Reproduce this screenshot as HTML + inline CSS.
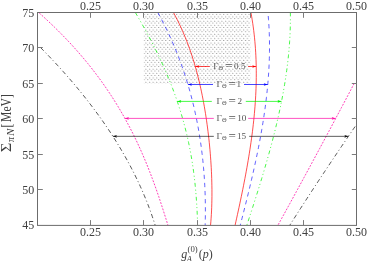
<!DOCTYPE html>
<html><head><meta charset="utf-8"><title>plot</title>
<style>
html,body{margin:0;padding:0;background:#fff;}
body{width:368px;height:261px;overflow:hidden;}
svg{display:block;will-change:transform;}
text{font-family:"Liberation Serif",serif;}
</style></head><body>
<svg width="368" height="261" viewBox="0 0 368 261">
<defs>
<pattern id="dots" x="143.5" y="13.9" width="3.62" height="4.36" patternUnits="userSpaceOnUse">
<ellipse cx="0.7" cy="0.6" rx="0.57" ry="0.37" fill="#222"/>
<ellipse cx="2.51" cy="2.78" rx="0.57" ry="0.37" fill="#222"/>
</pattern>
</defs>
<rect x="0" y="0" width="368" height="261" fill="#fff"/>
<rect x="143.8" y="12.3" width="106.5" height="71.2" fill="url(#dots)"/>
<path d="M173.47,12.50 L175.40,16.11 L177.25,19.72 L179.02,23.33 L180.72,26.93 L182.35,30.54 L183.91,34.15 L185.41,37.76 L186.84,41.37 L188.21,44.98 L189.52,48.58 L190.78,52.19 L191.98,55.80 L193.13,59.41 L194.24,63.02 L195.29,66.63 L196.30,70.24 L197.27,73.84 L198.19,77.45 L199.08,81.06 L199.93,84.67 L200.74,88.28 L201.51,91.89 L202.25,95.49 L202.96,99.10 L203.64,102.71 L204.29,106.32 L204.90,109.93 L205.49,113.54 L206.05,117.15 L206.58,120.75 L207.09,124.36 L207.57,127.97 L208.03,131.58 L208.46,135.19 L208.86,138.80 L209.25,142.41 L209.60,146.01 L209.94,149.62 L210.25,153.23 L210.53,156.84 L210.79,160.45 L211.03,164.06 L211.24,167.66 L211.42,171.27 L211.58,174.88 L211.71,178.49 L211.81,182.10 L211.89,185.71 L211.94,189.32 L211.95,192.92 L211.94,196.53 L211.89,200.14 L211.81,203.75 L211.69,207.36 L211.54,210.97 L211.35,214.57 L211.12,218.18 L210.85,221.79 L210.53,225.40" fill="none" stroke="#ff0000" stroke-width="0.7"/>
<path d="M250.93,12.50 L251.57,16.11 L252.17,19.72 L252.73,23.33 L253.24,26.93 L253.71,30.54 L254.14,34.15 L254.52,37.76 L254.87,41.37 L255.18,44.98 L255.45,48.58 L255.68,52.19 L255.87,55.80 L256.02,59.41 L256.14,63.02 L256.23,66.63 L256.28,70.24 L256.29,73.84 L256.27,77.45 L256.22,81.06 L256.14,84.67 L256.02,88.28 L255.88,91.89 L255.70,95.49 L255.50,99.10 L255.26,102.71 L255.00,106.32 L254.71,109.93 L254.39,113.54 L254.05,117.15 L253.68,120.75 L253.29,124.36 L252.88,127.97 L252.44,131.58 L251.97,135.19 L251.49,138.80 L250.98,142.41 L250.46,146.01 L249.91,149.62 L249.35,153.23 L248.76,156.84 L248.16,160.45 L247.54,164.06 L246.91,167.66 L246.26,171.27 L245.59,174.88 L244.91,178.49 L244.21,182.10 L243.51,185.71 L242.79,189.32 L242.05,192.92 L241.31,196.53 L240.56,200.14 L239.79,203.75 L239.02,207.36 L238.24,210.97 L237.45,214.57 L236.66,218.18 L235.85,221.79 L235.05,225.40" fill="none" stroke="#ff0000" stroke-width="0.7"/>
<path d="M157.80,12.50 L159.77,16.11 L161.68,19.72 L163.55,23.33 L165.36,26.93 L167.12,30.54 L168.83,34.15 L170.49,37.76 L172.10,41.37 L173.67,44.98 L175.18,48.58 L176.66,52.19 L178.08,55.80 L179.47,59.41 L180.81,63.02 L182.10,66.63 L183.36,70.24 L184.57,73.84 L185.74,77.45 L186.88,81.06 L187.97,84.67 L189.02,88.28 L190.04,91.89 L191.02,95.49 L191.96,99.10 L192.87,102.71 L193.74,106.32 L194.57,109.93 L195.37,113.54 L196.14,117.15 L196.87,120.75 L197.57,124.36 L198.24,127.97 L198.87,131.58 L199.47,135.19 L200.05,138.80 L200.59,142.41 L201.10,146.01 L201.58,149.62 L202.03,153.23 L202.45,156.84 L202.84,160.45 L203.20,164.06 L203.53,167.66 L203.84,171.27 L204.12,174.88 L204.37,178.49 L204.59,182.10 L204.78,185.71 L204.95,189.32 L205.09,192.92 L205.20,196.53 L205.29,200.14 L205.35,203.75 L205.38,207.36 L205.39,210.97 L205.37,214.57 L205.32,218.18 L205.25,221.79 L205.15,225.40" fill="none" stroke="#0000ff" stroke-width="0.62" stroke-dasharray="4.3 3.8"/>
<path d="M268.22,16.00 L268.51,19.55 L268.76,23.10 L268.97,26.65 L269.15,30.20 L269.29,33.75 L269.40,37.29 L269.47,40.84 L269.51,44.39 L269.51,47.94 L269.48,51.49 L269.42,55.04 L269.33,58.59 L269.21,62.14 L269.06,65.69 L268.87,69.24 L268.66,72.79 L268.42,76.34 L268.15,79.88 L267.86,83.43 L267.54,86.98 L267.19,90.53 L266.81,94.08 L266.41,97.63 L265.99,101.18 L265.54,104.73 L265.07,108.28 L264.57,111.83 L264.06,115.38 L263.52,118.93 L262.96,122.47 L262.38,126.02 L261.78,129.57 L261.16,133.12 L260.53,136.67 L259.87,140.22 L259.20,143.77 L258.51,147.32 L257.80,150.87 L257.08,154.42 L256.34,157.97 L255.59,161.52 L254.82,165.06 L254.04,168.61 L253.25,172.16 L252.44,175.71 L251.62,179.26 L250.79,182.81 L249.96,186.36 L249.11,189.91 L248.25,193.46 L247.38,197.01 L246.50,200.56 L245.62,204.11 L244.73,207.65 L243.83,211.20 L242.93,214.75 L242.02,218.30 L241.11,221.85 L240.19,225.40" fill="none" stroke="#0000ff" stroke-width="0.62" stroke-dasharray="4.3 3.8"/>
<path d="M135.35,12.50 L137.46,16.11 L139.55,19.72 L141.60,23.33 L143.63,26.93 L145.62,30.54 L147.58,34.15 L149.50,37.76 L151.39,41.37 L153.25,44.98 L155.07,48.58 L156.85,52.19 L158.59,55.80 L160.30,59.41 L161.97,63.02 L163.60,66.63 L165.19,70.24 L166.74,73.84 L168.26,77.45 L169.73,81.06 L171.16,84.67 L172.55,88.28 L173.90,91.89 L175.21,95.49 L176.48,99.10 L177.71,102.71 L178.90,106.32 L180.04,109.93 L181.15,113.54 L182.22,117.15 L183.24,120.75 L184.22,124.36 L185.17,127.97 L186.07,131.58 L186.94,135.19 L187.77,138.80 L188.56,142.41 L189.31,146.01 L190.02,149.62 L190.69,153.23 L191.33,156.84 L191.94,160.45 L192.51,164.06 L193.04,167.66 L193.54,171.27 L194.01,174.88 L194.44,178.49 L194.85,182.10 L195.22,185.71 L195.57,189.32 L195.88,192.92 L196.17,196.53 L196.43,200.14 L196.67,203.75 L196.89,207.36 L197.08,210.97 L197.25,214.57 L197.40,218.18 L197.53,221.79 L197.64,225.40" fill="none" stroke="#00f500" stroke-width="0.72" stroke-dasharray="3.9 2.9 1 2.5 1 2.7"/>
<path d="M290.36,12.50 L290.40,16.11 L290.40,19.72 L290.36,23.33 L290.29,26.93 L290.18,30.54 L290.04,34.15 L289.85,37.76 L289.64,41.37 L289.39,44.98 L289.11,48.58 L288.79,52.19 L288.44,55.80 L288.06,59.41 L287.65,63.02 L287.21,66.63 L286.74,70.24 L286.24,73.84 L285.71,77.45 L285.15,81.06 L284.57,84.67 L283.96,88.28 L283.32,91.89 L282.66,95.49 L281.97,99.10 L281.25,102.71 L280.52,106.32 L279.76,109.93 L278.98,113.54 L278.17,117.15 L277.35,120.75 L276.50,124.36 L275.63,127.97 L274.75,131.58 L273.84,135.19 L272.92,138.80 L271.97,142.41 L271.01,146.01 L270.04,149.62 L269.05,153.23 L268.04,156.84 L267.02,160.45 L265.98,164.06 L264.93,167.66 L263.87,171.27 L262.79,174.88 L261.71,178.49 L260.61,182.10 L259.50,185.71 L258.38,189.32 L257.25,192.92 L256.11,196.53 L254.97,200.14 L253.81,203.75 L252.65,207.36 L251.49,210.97 L250.32,214.57 L249.14,218.18 L247.96,221.79 L246.77,225.40" fill="none" stroke="#00f500" stroke-width="0.72" stroke-dasharray="3.9 2.9 1 2.5 1 2.7"/>
<path d="M39.25,13.00 L43.25,16.60 L47.16,20.20 L50.99,23.80 L54.73,27.40 L58.39,31.00 L61.96,34.60 L65.45,38.20 L68.86,41.80 L72.20,45.40 L75.45,49.00 L78.63,52.60 L81.73,56.20 L84.77,59.80 L87.72,63.40 L90.61,67.00 L93.43,70.60 L96.18,74.20 L98.86,77.80 L101.48,81.40 L104.03,85.00 L106.52,88.60 L108.95,92.20 L111.32,95.80 L113.63,99.40 L115.89,103.00 L118.08,106.60 L120.23,110.20 L122.31,113.80 L124.35,117.40 L126.34,121.00 L128.28,124.60 L130.16,128.20 L132.01,131.80 L133.80,135.40 L135.56,139.00 L137.27,142.60 L138.94,146.20 L140.57,149.80 L142.16,153.40 L143.71,157.00 L145.23,160.60 L146.71,164.20 L148.16,167.80 L149.58,171.40 L150.97,175.00 L152.33,178.60 L153.66,182.20 L154.97,185.80 L156.25,189.40 L157.50,193.00 L158.74,196.60 L159.95,200.20 L161.14,203.80 L162.32,207.40 L163.47,211.00 L164.62,214.60 L165.74,218.20 L166.86,221.80 L167.96,225.40" fill="none" stroke="#ff10a8" stroke-width="0.82" stroke-dasharray="1.9 1.4"/>
<path d="M354.15,83.50 L352.88,85.91 L351.62,88.31 L350.36,90.72 L349.09,93.12 L347.83,95.53 L346.56,97.93 L345.29,100.34 L344.03,102.74 L342.76,105.15 L341.48,107.55 L340.21,109.96 L338.94,112.36 L337.66,114.77 L336.39,117.17 L335.11,119.58 L333.83,121.98 L332.56,124.39 L331.28,126.79 L329.99,129.20 L328.71,131.60 L327.43,134.01 L326.14,136.41 L324.86,138.82 L323.57,141.22 L322.28,143.63 L321.00,146.03 L319.71,148.44 L318.41,150.84 L317.12,153.25 L315.83,155.65 L314.53,158.06 L313.24,160.46 L311.94,162.87 L310.64,165.27 L309.35,167.68 L308.05,170.08 L306.74,172.49 L305.44,174.89 L304.14,177.30 L302.83,179.70 L301.53,182.11 L300.22,184.51 L298.91,186.92 L297.61,189.32 L296.30,191.73 L294.98,194.13 L293.67,196.54 L292.36,198.94 L291.04,201.35 L289.73,203.75 L288.41,206.16 L287.09,208.56 L285.78,210.97 L284.46,213.37 L283.13,215.78 L281.81,218.18 L280.49,220.59 L279.16,222.99 L277.84,225.40" fill="none" stroke="#ff10a8" stroke-width="0.82" stroke-dasharray="1.9 1.4"/>
<path d="M40.68,47.70 L43.65,50.71 L46.58,53.72 L49.47,56.74 L52.33,59.75 L55.15,62.76 L57.93,65.77 L60.68,68.78 L63.39,71.79 L66.07,74.81 L68.71,77.82 L71.31,80.83 L73.88,83.84 L76.41,86.85 L78.90,89.87 L81.36,92.88 L83.79,95.89 L86.17,98.90 L88.53,101.91 L90.84,104.93 L93.12,107.94 L95.37,110.95 L97.58,113.96 L99.76,116.97 L101.90,119.98 L104.00,123.00 L106.07,126.01 L108.11,129.02 L110.11,132.03 L112.07,135.04 L114.01,138.06 L115.90,141.07 L117.76,144.08 L119.59,147.09 L121.38,150.10 L123.14,153.12 L124.86,156.13 L126.55,159.14 L128.21,162.15 L129.83,165.16 L131.42,168.17 L132.97,171.19 L134.49,174.20 L135.98,177.21 L137.43,180.22 L138.85,183.23 L140.23,186.25 L141.58,189.26 L142.90,192.27 L144.18,195.28 L145.43,198.29 L146.65,201.31 L147.83,204.32 L148.99,207.33 L150.10,210.34 L151.19,213.35 L152.24,216.36 L153.26,219.38 L154.25,222.39 L155.20,225.40" fill="none" stroke="#111" stroke-width="0.7" stroke-dasharray="4.4 2.6 1 2.6"/>
<path d="M355.11,126.50 L353.96,128.18 L352.81,129.85 L351.67,131.53 L350.52,133.21 L349.37,134.88 L348.23,136.56 L347.09,138.23 L345.95,139.91 L344.81,141.59 L343.67,143.26 L342.53,144.94 L341.40,146.62 L340.26,148.29 L339.13,149.97 L338.00,151.64 L336.87,153.32 L335.74,155.00 L334.61,156.67 L333.49,158.35 L332.37,160.03 L331.24,161.70 L330.12,163.38 L329.00,165.05 L327.89,166.73 L326.77,168.41 L325.65,170.08 L324.54,171.76 L323.43,173.44 L322.32,175.11 L321.21,176.79 L320.10,178.46 L318.99,180.14 L317.89,181.82 L316.79,183.49 L315.68,185.17 L314.58,186.85 L313.48,188.52 L312.39,190.20 L311.29,191.87 L310.20,193.55 L309.10,195.23 L308.01,196.90 L306.92,198.58 L305.83,200.26 L304.74,201.93 L303.66,203.61 L302.57,205.28 L301.49,206.96 L300.41,208.64 L299.33,210.31 L298.25,211.99 L297.17,213.67 L296.10,215.34 L295.02,217.02 L293.95,218.69 L292.88,220.37 L291.81,222.05 L290.74,223.72 L289.67,225.40" fill="none" stroke="#111" stroke-width="0.7" stroke-dasharray="4.4 2.6 1 2.6"/>
<path d="M195.26,66.5 H209.7" stroke="#ff0000" stroke-width="0.72" fill="none"/>
<path d="M248.1,66.5 H256.23" stroke="#ff0000" stroke-width="0.72" fill="none"/>
<path d="M195.26,66.5 l4,-1.35 l-0.8,1.35 l0.8,1.35 z" fill="#ff0000"/>
<path d="M256.23,66.5 l-4,-1.35 l0.8,1.35 l-0.8,1.35 z" fill="#ff0000"/>
<text x="213.2" y="68.9" font-size="9.2" fill="#555">Γ</text>
<text x="218.5" y="70.4" font-size="6.4" fill="#555">Θ</text>
<text transform="translate(225.2,70.25) scale(1.42,1.32)" font-size="9.2" fill="#555">=</text>
<text x="245.5" y="68.9" font-size="9.2" text-anchor="end" fill="#555">0.5</text>
<path d="M187.92,84.5 H213.0" stroke="#0000ff" stroke-width="0.72" fill="none"/>
<path d="M244.0,84.5 H267.76" stroke="#0000ff" stroke-width="0.72" fill="none"/>
<path d="M187.92,84.5 l4,-1.35 l-0.8,1.35 l0.8,1.35 z" fill="#0000ff"/>
<path d="M267.76,84.5 l-4,-1.35 l0.8,1.35 l-0.8,1.35 z" fill="#0000ff"/>
<text x="216.6" y="86.9" font-size="9.2" fill="#555">Γ</text>
<text x="221.9" y="88.4" font-size="6.4" fill="#555">Θ</text>
<text transform="translate(228.6,88.25) scale(1.42,1.32)" font-size="9.2" fill="#555">=</text>
<text x="241.2" y="86.9" font-size="9.2" text-anchor="end" fill="#555">1</text>
<path d="M177.27,101.4 H211.8" stroke="#00f500" stroke-width="0.72" fill="none"/>
<path d="M245.8,101.4 H281.52" stroke="#00f500" stroke-width="0.72" fill="none"/>
<path d="M177.27,101.4 l4,-1.35 l-0.8,1.35 l0.8,1.35 z" fill="#00f500"/>
<path d="M281.52,101.4 l-4,-1.35 l0.8,1.35 l-0.8,1.35 z" fill="#00f500"/>
<text x="216.6" y="103.8" font-size="9.2" fill="#555">Γ</text>
<text x="221.9" y="105.3" font-size="6.4" fill="#555">Θ</text>
<text transform="translate(228.6,105.15) scale(1.42,1.32)" font-size="9.2" fill="#555">=</text>
<text x="242.0" y="103.8" font-size="9.2" text-anchor="end" fill="#555">2</text>
<path d="M124.91,118.4 H213.8" stroke="#ff10a8" stroke-width="0.72" fill="none"/>
<path d="M248.2,118.4 H335.74" stroke="#ff10a8" stroke-width="0.72" fill="none"/>
<path d="M124.91,118.4 l4,-1.35 l-0.8,1.35 l0.8,1.35 z" fill="#ff10a8"/>
<path d="M335.74,118.4 l-4,-1.35 l0.8,1.35 l-0.8,1.35 z" fill="#ff10a8"/>
<text x="216.6" y="120.8" font-size="9.2" fill="#555">Γ</text>
<text x="221.9" y="122.3" font-size="6.4" fill="#555">Θ</text>
<text transform="translate(228.6,122.15) scale(1.42,1.32)" font-size="9.2" fill="#555">=</text>
<text x="246.4" y="120.8" font-size="9.2" text-anchor="end" fill="#555">10</text>
<path d="M112.92,136.35 H213.8" stroke="#111" stroke-width="0.68" fill="none"/>
<path d="M249.2,136.35 H348.37" stroke="#111" stroke-width="0.68" fill="none"/>
<path d="M112.92,136.35 l4,-1.35 l-0.8,1.35 l0.8,1.35 z" fill="#111"/>
<path d="M348.37,136.35 l-4,-1.35 l0.8,1.35 l-0.8,1.35 z" fill="#111"/>
<text x="216.6" y="138.8" font-size="9.2" fill="#555">Γ</text>
<text x="221.9" y="140.2" font-size="6.4" fill="#555">Θ</text>
<text transform="translate(228.6,140.10) scale(1.42,1.32)" font-size="9.2" fill="#555">=</text>
<text x="246.1" y="138.8" font-size="9.2" text-anchor="end" fill="#555">15</text>
<rect x="37.5" y="12.5" width="319.0" height="212.90" fill="none" stroke="#6c6c6c" stroke-width="1"/>
<path d="M90.5,12.5 v5.3 M90.5,225.4 v-5.3 M143.5,12.5 v5.3 M143.5,225.4 v-5.3 M197.5,12.5 v5.3 M197.5,225.4 v-5.3 M250.5,12.5 v5.3 M250.5,225.4 v-5.3 M303.5,12.5 v5.3 M303.5,225.4 v-5.3 M37.5,47.5 h5.3 M356.5,47.5 h-4.7 M37.5,83.5 h5.3 M356.5,83.5 h-4.7 M37.5,118.5 h5.3 M356.5,118.5 h-4.7 M37.5,154.5 h5.3 M356.5,154.5 h-4.7 M37.5,189.5 h5.3 M356.5,189.5 h-4.7" stroke="#7c7c7c" stroke-width="1" fill="none"/>
<text transform="translate(90.60,9.7) scale(1,1.11)" font-size="12" text-anchor="middle" fill="#404040">0.25</text>
<text transform="translate(143.60,9.7) scale(1,1.11)" font-size="12" text-anchor="middle" fill="#404040">0.30</text>
<text transform="translate(197.60,9.7) scale(1,1.11)" font-size="12" text-anchor="middle" fill="#404040">0.35</text>
<text transform="translate(250.60,9.7) scale(1,1.11)" font-size="12" text-anchor="middle" fill="#404040">0.40</text>
<text transform="translate(303.60,9.7) scale(1,1.11)" font-size="12" text-anchor="middle" fill="#404040">0.45</text>
<text transform="translate(356.60,9.7) scale(1,1.11)" font-size="12" text-anchor="middle" fill="#404040">0.50</text>
<text transform="translate(90.60,236.4) scale(1,1.11)" font-size="12" text-anchor="middle" fill="#404040">0.25</text>
<text transform="translate(143.60,236.4) scale(1,1.11)" font-size="12" text-anchor="middle" fill="#404040">0.30</text>
<text transform="translate(197.60,236.4) scale(1,1.11)" font-size="12" text-anchor="middle" fill="#404040">0.35</text>
<text transform="translate(250.60,236.4) scale(1,1.11)" font-size="12" text-anchor="middle" fill="#404040">0.40</text>
<text transform="translate(303.60,236.4) scale(1,1.11)" font-size="12" text-anchor="middle" fill="#404040">0.45</text>
<text transform="translate(356.60,236.4) scale(1,1.11)" font-size="12" text-anchor="middle" fill="#404040">0.50</text>
<text transform="translate(34.3,16.50) scale(1,1.11)" font-size="12" text-anchor="end" fill="#404040">75</text>
<text transform="translate(34.3,51.50) scale(1,1.11)" font-size="12" text-anchor="end" fill="#404040">70</text>
<text transform="translate(34.3,87.50) scale(1,1.11)" font-size="12" text-anchor="end" fill="#404040">65</text>
<text transform="translate(34.3,122.50) scale(1,1.11)" font-size="12" text-anchor="end" fill="#404040">60</text>
<text transform="translate(34.3,158.50) scale(1,1.11)" font-size="12" text-anchor="end" fill="#404040">55</text>
<text transform="translate(34.3,193.50) scale(1,1.11)" font-size="12" text-anchor="end" fill="#404040">50</text>
<text transform="translate(34.3,229.40) scale(1,1.11)" font-size="12" text-anchor="end" fill="#404040">45</text>
<g transform="translate(10.6,152.3) rotate(-90)" fill="#404040">
<text x="0" y="0" font-size="14.6" textLength="9.6" lengthAdjust="spacingAndGlyphs">Σ</text>
<text x="10.2" y="3.4" font-size="9.6" font-style="italic" textLength="5.0" lengthAdjust="spacingAndGlyphs">π</text>
<text x="16.3" y="3.5" font-size="9.6" font-style="italic" textLength="7.4" lengthAdjust="spacingAndGlyphs">N</text>
<text x="24.9" y="0" font-size="15" textLength="3.9" lengthAdjust="spacingAndGlyphs">[</text>
<text x="30.4" y="0" font-size="15" textLength="27.8" lengthAdjust="spacingAndGlyphs">MeV]</text>
</g>
<g fill="#404040">
<text x="181.3" y="257.5" font-size="12" font-style="italic">g</text>
<text x="186.4" y="262" font-size="9" font-style="italic">A</text>
<text x="187.5" y="251.6" font-size="7.8" textLength="10.2" lengthAdjust="spacingAndGlyphs">(0)</text>
<text x="198.7" y="257.5" font-size="12">(<tspan font-style="italic">p</tspan>)</text>
</g>
</svg>
</body></html>
